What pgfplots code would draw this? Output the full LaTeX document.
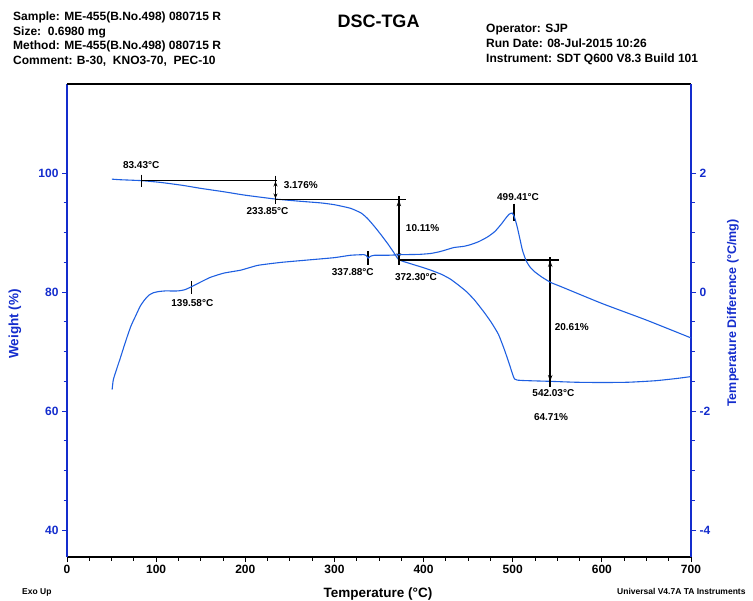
\documentclass[border=0pt]{standalone}
\usepackage{pgfplots}
\pgfplotsset{compat=1.18}
\usepackage{fontspec}
\setmainfont{Liberation Sans}
\usetikzlibrary{arrows.meta}
\definecolor{curveblue}{RGB}{30,95,225}
\definecolor{axisblue}{RGB}{20,45,205}

\pgfplotstableread{
T w
50.3 99.0
60 98.9
83.4 98.75
105 98.45
130 97.95
150 97.45
175 96.9
200 96.3
234 95.65
260 95.3
285 95.0
300 94.7
318 94.1
330 93.3
337 92.4
344 91.2
352 89.7
360 88.1
366 86.8
372.3 85.45
385 84.8
398 84.2
408 83.7
420 83.0
430 82.2
439 81.2
448 80.1
457 78.7
468 76.6
476 74.9
484 72.9
490.5 70.4
496 68.0
502 65.4
510 65.15
542 65.0
570 64.85
600 64.8
630 64.85
660 65.1
685 65.5
700 65.8
}\tga

\pgfplotstableread{
T d
50.6 -1.64
52 -1.47
56 -1.28
60 -1.10
64 -0.91
67.5 -0.75
72 -0.56
77 -0.40
82 -0.24
87 -0.13
92 -0.05
97 -0.01
103 0.01
110 0.02
124 0.02
132 0.04
139.58 0.09
150 0.17
161 0.25
176 0.32
195 0.37
214 0.45
240 0.50
270 0.54
300 0.58
318 0.62
333 0.63
336 0.61
337.88 0.57
340 0.60
345 0.62
360 0.62
375 0.63
395 0.635
408 0.65
418 0.68
425 0.71
434 0.75
445 0.77
453 0.80
462 0.85
472 0.93
480 1.02
487 1.14
492 1.24
496 1.31
499.4 1.33
502 1.26
505 1.10
508 0.90
511 0.70
515 0.53
519 0.43
524 0.35
533 0.25
543 0.16
554.6 0.09
600 -0.19
650 -0.47
700 -0.77
}\dsc

\begin{document}
\begin{tikzpicture}
\path[use as bounding box] (0,0) rectangle (753bp,601bp);

% header
\begin{scope}[every node/.style={font=\bfseries\fontsize{12bp}{14bp}\selectfont, inner sep=0pt, anchor=base west}]
\node at (13bp,580.3bp) {Sample: ME-455(B.No.498) 080715 R};
\node at (13bp,565.3bp) {Size:\ \ 0.6980 mg};
\node at (13bp,551bp) {Method: ME-455(B.No.498) 080715 R};
\node at (13bp,536bp) {Comment: B-30,\ \ KNO3-70,\ \ PEC-10};
\node at (486bp,568bp) {Operator: SJP};
\node at (486bp,553bp) {Run Date: 08-Jul-2015 10:26};
\node at (486bp,538bp) {Instrument: SDT Q600 V8.3 Build 101};
\end{scope}
\node[font=\bfseries\fontsize{18bp}{20bp}\selectfont, inner sep=0pt, anchor=base] at (378.5bp,573bp) {DSC-TGA};

% footer and axis titles
\node[font=\bfseries\fontsize{8.5bp}{10bp}\selectfont, inner sep=0pt, anchor=base west] at (22bp,7bp) {Exo Up};
\node[font=\bfseries\fontsize{8.5bp}{10bp}\selectfont, inner sep=0pt, anchor=base west] at (617bp,7bp) {Universal V4.7A TA Instruments};
\node[font=\bfseries\fontsize{13.5bp}{15bp}\selectfont, inner sep=0pt, anchor=base] at (378bp,4bp) {Temperature (°C)};
\node[font=\bfseries\fontsize{13.5bp}{15bp}\selectfont, text=axisblue, inner sep=0pt, rotate=90] at (15bp,277bp) {Weight (\%)};
\node[font=\bfseries\fontsize{12.5bp}{14bp}\selectfont, text=axisblue, inner sep=0pt, rotate=90] at (733bp,288bp) {Temperature Difference (°C/mg)};

\begin{axis}[
  at={(67bp,44bp)}, anchor=south west,
  scale only axis, width=624bp, height=473bp,
  xmin=0, xmax=700, ymin=35.46, ymax=115,
  axis x line*=bottom, axis y line*=left,
  x axis line style={black, line width=1.1pt, -},
  y axis line style={axisblue, line width=1.1pt, -},
  tick align=outside,
  major tick length=5bp, minor tick length=3.5bp,
  xtick={0,100,...,700}, minor x tick num=3,
  ytick={40,60,80,100}, minor y tick num=3,
  x tick style={black, line width=0.9pt},
  y tick style={axisblue, line width=0.9pt},
  xticklabel style={font=\bfseries\fontsize{12bp}{14bp}\selectfont, text=black},
  yticklabel style={font=\bfseries\fontsize{12bp}{14bp}\selectfont, text=axisblue},
  /pgf/number format/assume math mode=true,
  clip=false,
]
\draw[black, line width=1.1pt] (rel axis cs:0,1) -- (rel axis cs:1,1);
\addplot[curveblue, line width=1.1pt, smooth, tension=0.3] table[x=T, y=w] {\tga};

% annotations
\begin{scope}[black, line width=1.4pt]
\draw (axis cs:83.43,98.75) -- (axis cs:236,98.75);
\draw (axis cs:83.43,99.75) -- (axis cs:83.43,97.75);
\draw (axis cs:233.85,99.6) -- (axis cs:233.85,94.9);
\draw[{Stealth[length=5bp,width=4bp]}-{Stealth[length=5bp,width=4bp]}] (axis cs:233.85,98.6) -- (axis cs:233.85,95.75);
\draw (axis cs:233.85,95.6) -- (axis cs:380,95.6);
\draw (axis cs:372.3,96.1) -- (axis cs:372.3,84.6);
\draw[{Stealth[length=6bp,width=4.5bp]}-{Stealth[length=6bp,width=4.5bp]}] (axis cs:372.3,95.45) -- (axis cs:372.3,85.55);
\draw (axis cs:372.3,85.4) -- (axis cs:552,85.4);
\draw (axis cs:542.03,85.9) -- (axis cs:542.03,64.1);
\draw[{Stealth[length=6bp,width=4.5bp]}-{Stealth[length=6bp,width=4.5bp]}] (axis cs:542.03,85.25) -- (axis cs:542.03,65.05);
% DSC markers (in weight units: w = 80 + 10 d)
\draw (axis cs:139.58,81.9) -- (axis cs:139.58,79.7);
\draw (axis cs:337.88,86.9) -- (axis cs:337.88,84.6);
\draw (axis cs:501.5,94.9) -- (axis cs:501.5,91.9);
\end{scope}
\begin{scope}[every node/.style={font=\bfseries\fontsize{10bp}{12bp}\selectfont, inner sep=0pt}]
\node at (axis cs:83.2,101.4) {83.43°C};
\node[anchor=west] at (axis cs:243,98.0) {3.176\%};
\node at (axis cs:225,93.55) {233.85°C};
\node[anchor=west] at (axis cs:380,90.8) {10.11\%};
\node at (axis cs:320.6,83.4) {337.88°C};
\node at (axis cs:391.5,82.6) {372.30°C};
\node at (axis cs:506,96.0) {499.41°C};
\node at (axis cs:140.6,78.2) {139.58°C};
\node[anchor=west] at (axis cs:547,74.2) {20.61\%};
\node at (axis cs:545.6,63.0) {542.03°C};
\node at (axis cs:543,59.0) {64.71\%};
\end{scope}
\end{axis}

\begin{axis}[
  at={(67bp,44bp)}, anchor=south west,
  scale only axis, width=624bp, height=473bp,
  xmin=0, xmax=700, ymin=-4.454, ymax=3.5,
  axis x line=none, axis y line*=right,
  y axis line style={axisblue, line width=1.1pt, -},
  tick align=outside,
  major tick length=5bp, minor tick length=3.5bp,
  ytick={-4,-2,0,2}, minor y tick num=3,
  y tick style={axisblue, line width=0.9pt},
  yticklabel style={font=\bfseries\fontsize{12bp}{14bp}\selectfont, text=axisblue},
  /pgf/number format/assume math mode=true,
  clip=false,
]
\addplot[curveblue, line width=1.1pt, smooth, tension=0.3] table[x=T, y=d] {\dsc};
\end{axis}
\end{tikzpicture}
\end{document}
